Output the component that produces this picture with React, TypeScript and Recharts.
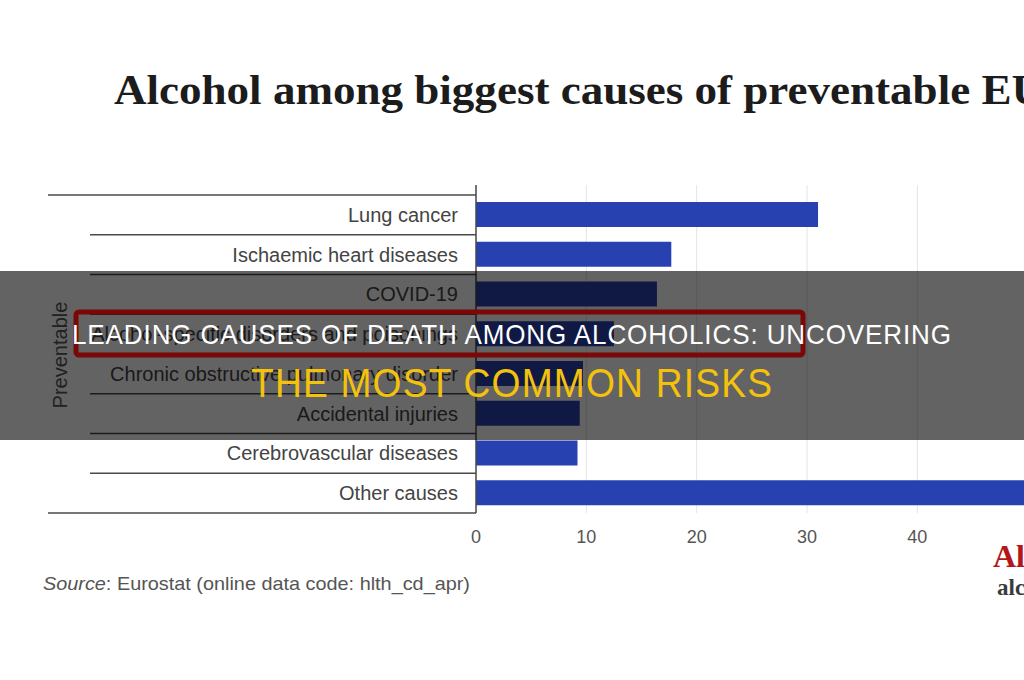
import { BarChart, Bar, XAxis, YAxis, CartesianGrid } from "recharts";

const causes = [
  "Lung cancer",
  "Ischaemic heart diseases",
  "COVID-19",
  "Alcohol-specific disorders and poisonings",
  "Chronic obstructive pulmonary disorder",
  "Accidental injuries",
  "Cerebrovascular diseases",
  "Other causes",
];
const shares = [31.0, 17.7, 16.4, 12.5, 9.7, 9.4, 9.2, 55];
const xTicks = [0, 10, 20, 30, 40];

const data = causes.map((name, i) => ({ name, value: shares[i] }));

const SANS = "'Liberation Sans', Arial, Helvetica, sans-serif";
const AXIS_X = 476;

function CauseTick(props: any) {
  const { x, y, payload, index, visibleTicksCount } = props;
  const half = payload.offset || 19.9;
  const last = index === visibleTicksCount - 1;
  const lineStyle = { stroke: "#4a4a4a", strokeWidth: 1.5 };
  return (
    <g>
      {index === 0 && (
        <line x1={48} x2={AXIS_X} y1={y - half} y2={y - half} {...lineStyle} />
      )}
      <line x1={last ? 48 : 90} x2={AXIS_X} y1={y + half} y2={y + half} {...lineStyle} />
      <text
        x={x}
        y={y}
        dy="0.35em"
        textAnchor="end"
        fill="#444"
        fontSize={20}
        fontFamily={SANS}
      >
        {payload.value}
      </text>
    </g>
  );
}

// condensed headline: squeeze glyphs horizontally, keep the final width
function Headline(props: any) {
  const { x, y, width, size, color, squeeze, children } = props;
  return (
    <g transform={`translate(${x} ${y}) scale(${squeeze} 1)`}>
      <text
        x={0}
        y={0}
        fontSize={size}
        fontFamily={SANS}
        fill={color}
        textLength={width / squeeze}
        lengthAdjust="spacing"
      >
        {children}
      </text>
    </g>
  );
}

export default function App() {
  return (
    <div
      style={{
        position: "absolute",
        left: 0,
        top: 0,
        width: 1024,
        height: 680,
        overflow: "hidden",
        background: "#fff",
      }}
    >
      {/* title, source and logo */}
      <svg width={1024} height={680} style={{ position: "absolute", left: 0, top: 0 }}>
        <text
          x={114}
          y={104}
          fontSize={43}
          fontWeight={600}
          fontFamily="'Liberation Serif', 'DejaVu Serif', serif"
          fill="#1c1c1c"
          textLength={930}
          lengthAdjust="spacingAndGlyphs"
        >
          Alcohol among biggest causes of preventable EU
        </text>
        <text
          x={60}
          y={355}
          transform="rotate(-90 60 355)"
          textAnchor="middle"
          dy="0.35em"
          fontSize={20}
          fontFamily={SANS}
          fill="#555"
        >
          Preventable
        </text>
        <text
          x={43}
          y={590}
          fontSize={19}
          fontFamily={SANS}
          fill="#555"
          textLength={427}
          lengthAdjust="spacingAndGlyphs"
        >
          <tspan fontStyle="italic">Source</tspan>: Eurostat (online data code: hlth_cd_apr)
        </text>
        <text
          x={993}
          y={567}
          fontSize={32}
          fontWeight={700}
          fontFamily="'Liberation Serif', serif"
          fill="#b3171b"
        >
          Al
        </text>
        <text
          x={997}
          y={595}
          fontSize={23}
          fontWeight={700}
          fontFamily="'Liberation Serif', serif"
          fill="#3a3a3a"
        >
          alc
        </text>
      </svg>

      <div style={{ position: "absolute", left: 0, top: 0 }}>
        <BarChart
          width={1138}
          height={560}
          data={data}
          layout="vertical"
          margin={{ top: 185, right: 0, bottom: 17, left: 0 }}
          barSize={25}
        >
          <CartesianGrid horizontal={false} stroke="#e4e4e4" />
          <XAxis
            type="number"
            domain={[0, 60]}
            ticks={xTicks}
            axisLine={false}
            tickLine={false}
            tickMargin={11}
            tick={{ fill: "#555", fontSize: 18, fontFamily: SANS }}
          />
          <YAxis
            type="category"
            dataKey="name"
            width={AXIS_X}
            padding={{ top: 10, bottom: 0 }}
            tickLine={false}
            tickSize={0}
            tickMargin={18}
            axisLine={{ stroke: "#4a4a4a", strokeWidth: 1.5 }}
            tick={<CauseTick />}
            interval={0}
          />
          <Bar dataKey="value" fill="#2742b0" isAnimationActive={false} />
        </BarChart>
      </div>

      {/* darkened banner with headline */}
      <svg
        width={1024}
        height={680}
        style={{ position: "absolute", left: 0, top: 0, pointerEvents: "none" }}
      >
        <rect x={0} y={271} width={1024} height={169} fill="rgba(0,0,0,0.61)" />
        <rect
          x={76}
          y={312}
          width={727}
          height={43}
          rx={3}
          fill="none"
          stroke="#7a0808"
          strokeWidth={5}
        />
        <Headline x={72} y={344} width={879} size={28} color="#ffffff" squeeze={0.93}>
          LEADING CAUSES OF DEATH AMONG ALCOHOLICS: UNCOVERING
        </Headline>
        <Headline x={251} y={397} width={521} size={40} color="#f4c20d" squeeze={0.93}>
          THE MOST COMMON RISKS
        </Headline>
      </svg>
    </div>
  );
}
